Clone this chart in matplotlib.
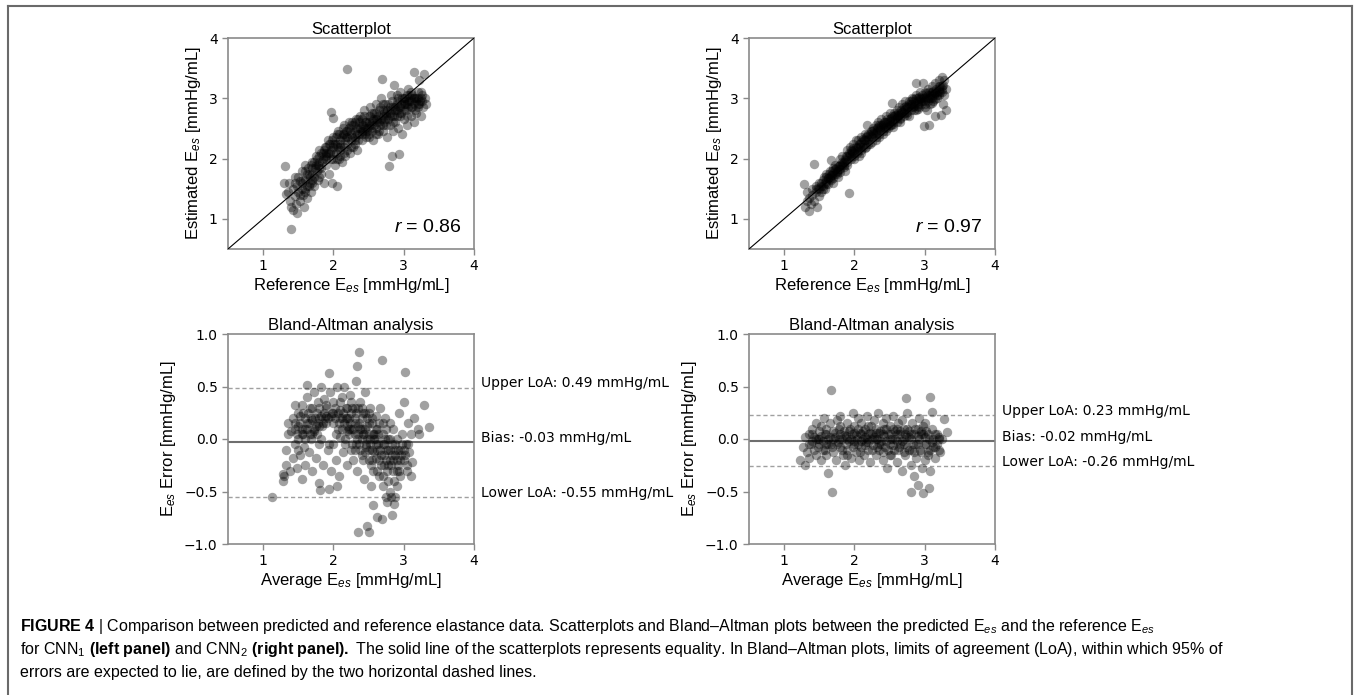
import matplotlib
matplotlib.use("Agg")
import matplotlib.pyplot as plt
import numpy as np
from matplotlib.lines import Line2D

# FONTES
plt.rcParams['font.family'] = 'DejaVu Sans'
plt.rcParams['mathtext.fontset'] = 'custom'
plt.rcParams['mathtext.rm'] = 'Liberation Sans'
plt.rcParams['mathtext.it'] = 'Liberation Sans:italic'
plt.rcParams['mathtext.bf'] = 'Liberation Sans:bold'

# DATA
# CNN1 scatter: (reference, estimated)
cnn1_scatter = [
    (1.31, 1.87), (1.30, 1.60), (1.33, 1.42), (1.35, 1.45), (1.37, 1.60), (1.38, 1.30), (1.39, 0.83),
    (1.40, 1.20), (1.42, 1.50), (1.43, 1.15), (1.45, 1.38), (1.46, 1.70), (1.47, 1.25), (1.48, 1.55),
    (1.48, 1.10), (1.50, 1.45), (1.52, 1.62), (1.53, 1.30), (1.55, 1.80), (1.55, 1.50), (1.57, 1.40),
    (1.58, 1.20), (1.60, 1.65), (1.60, 1.90), (1.62, 1.55), (1.63, 1.35), (1.65, 1.75), (1.66, 1.60),
    (1.68, 1.45), (1.70, 1.85), (1.70, 1.95), (1.72, 1.70), (1.73, 1.55), (1.75, 2.05), (1.76, 1.80),
    (1.78, 1.65), (1.80, 1.95), (1.80, 2.15), (1.82, 1.75), (1.83, 1.85), (1.85, 2.00), (1.86, 1.60),
    (1.88, 2.20), (1.90, 1.90), (1.90, 2.05), (1.92, 2.30), (1.93, 1.75), (1.95, 2.10), (1.96, 2.00),
    (1.96, 2.77), (1.99, 2.68), (1.98, 1.60), (2.00, 2.20), (2.00, 2.35), (2.02, 1.90), (2.03, 2.10),
    (2.05, 2.25), (2.05, 1.55), (2.07, 2.45), (2.08, 2.00), (2.10, 2.30), (2.10, 2.15), (2.12, 1.95),
    (2.13, 2.40), (2.15, 2.20), (2.15, 2.55), (2.17, 2.05), (2.18, 2.35), (2.20, 3.49), (2.20, 2.25),
    (2.22, 2.50), (2.23, 2.10), (2.25, 2.40), (2.25, 2.30), (2.27, 2.60), (2.28, 2.20), (2.30, 2.45),
    (2.30, 2.35), (2.32, 2.65), (2.33, 2.15), (2.35, 2.50), (2.36, 2.40), (2.38, 2.70), (2.40, 2.30),
    (2.40, 2.55), (2.42, 2.45), (2.43, 2.80), (2.45, 2.60), (2.46, 2.35), (2.48, 2.50), (2.50, 2.70),
    (2.50, 2.40), (2.52, 2.85), (2.53, 2.55), (2.55, 2.62), (2.56, 2.30), (2.58, 2.75), (2.60, 2.50),
    (2.60, 2.90), (2.62, 2.65), (2.63, 2.40), (2.65, 2.80), (2.66, 2.55), (2.68, 3.00), (2.69, 3.32),
    (2.70, 2.70), (2.70, 2.45), (2.72, 2.60), (2.74, 2.90), (2.75, 2.75), (2.76, 2.35), (2.78, 2.65),
    (2.79, 1.88), (2.80, 2.85), (2.80, 2.55), (2.82, 3.05), (2.83, 2.70), (2.84, 2.05), (2.85, 2.45),
    (2.86, 3.22), (2.87, 2.80), (2.88, 2.60), (2.90, 2.95), (2.90, 2.70), (2.92, 2.50), (2.93, 2.07),
    (2.94, 2.85), (2.95, 3.10), (2.96, 2.75), (2.98, 2.40), (3.00, 2.90), (3.00, 2.65), (3.02, 3.00),
    (3.03, 2.80), (3.05, 2.55), (3.06, 3.15), (3.08, 2.95), (3.10, 2.70), (3.10, 2.85), (3.12, 3.05),
    (3.14, 2.60), (3.15, 3.44), (3.15, 2.90), (3.17, 3.00), (3.18, 2.75), (3.20, 3.10), (3.20, 2.85),
    (3.22, 3.30), (3.23, 2.95), (3.25, 2.70), (3.26, 3.05), (3.28, 2.85), (3.29, 3.41), (3.30, 3.00),
    (3.32, 2.90),
    # dense core
    (1.45, 1.60), (1.50, 1.70), (1.52, 1.40), (1.56, 1.65), (1.60, 1.50), (1.62, 1.75), (1.64, 1.85),
    (1.66, 1.70), (1.68, 1.90), (1.70, 1.75), (1.72, 1.95), (1.74, 1.85), (1.76, 2.00), (1.78, 1.90),
    (1.80, 2.05), (1.82, 2.10), (1.84, 1.95), (1.86, 2.15), (1.88, 2.05), (1.90, 2.20), (1.92, 2.10),
    (1.94, 2.25), (1.96, 2.15), (1.98, 2.30), (2.00, 2.10), (2.02, 2.25), (2.04, 2.35), (2.06, 2.20),
    (2.08, 2.40), (2.10, 2.25), (2.12, 2.35), (2.14, 2.50), (2.16, 2.30), (2.18, 2.45), (2.20, 2.35),
    (2.22, 2.60), (2.24, 2.45), (2.26, 2.35), (2.28, 2.55), (2.30, 2.60), (2.32, 2.50), (2.34, 2.40),
    (2.36, 2.60), (2.38, 2.50), (2.40, 2.65), (2.42, 2.55), (2.44, 2.70), (2.46, 2.60), (2.48, 2.45),
    (2.50, 2.60), (2.52, 2.70), (2.54, 2.50), (2.56, 2.65), (2.58, 2.55), (2.60, 2.75), (2.62, 2.60),
    (2.64, 2.70), (2.66, 2.85), (2.68, 2.65), (2.70, 2.80), (2.72, 2.75), (2.74, 2.65), (2.76, 2.80),
    (2.78, 2.90), (2.80, 2.70), (2.82, 2.80), (2.84, 2.95), (2.86, 2.70), (2.88, 2.85), (2.90, 2.80),
    (2.92, 3.00), (2.94, 2.75), (2.96, 2.90), (2.98, 3.00), (3.00, 2.80), (3.02, 2.90), (3.04, 3.05),
    (3.06, 2.85), (3.08, 3.05), (3.10, 2.95), (3.12, 2.85), (3.14, 3.00), (3.16, 2.80), (3.18, 2.95),
    (3.20, 3.00), (3.22, 2.90), (3.24, 3.10), (3.26, 2.95), (3.10, 3.00), (3.00, 3.00), (2.90, 2.90),
    (3.05, 2.70), (2.75, 2.55), (2.65, 2.45), (2.55, 2.45), (2.45, 2.40), (2.35, 2.30), (2.25, 2.20),
    (2.15, 2.10), (2.05, 2.00),
    (1.55, 1.60), (1.60, 1.80), (1.65, 1.55), (1.70, 1.65), (1.75, 1.90), (1.80, 1.85), (1.85, 2.10),
    (1.90, 2.00), (1.95, 2.25), (2.00, 2.00), (2.05, 2.40), (2.10, 2.20), (2.15, 2.40), (2.20, 2.45),
    (2.25, 2.55), (2.30, 2.30), (2.35, 2.65), (2.40, 2.45), (2.45, 2.50), (2.50, 2.55), (2.55, 2.75),
    (2.60, 2.65), (2.65, 2.60), (2.70, 2.90), (2.75, 2.70), (2.80, 2.75), (2.85, 2.85), (2.90, 3.05),
    (2.95, 2.85), (3.00, 2.95), (3.05, 2.95), (3.10, 3.10), (3.15, 3.00), (3.20, 2.90), (3.25, 3.00),
    (3.05, 2.90), (2.95, 2.70), (2.85, 2.60), (2.70, 2.55), (2.60, 2.40), (2.50, 2.35), (2.40, 2.40),
    (2.30, 2.25), (2.20, 2.15), (2.10, 2.05), (2.00, 2.25), (1.90, 2.10), (1.80, 1.70), (1.70, 1.60),
    (1.60, 1.45),
]

# CNN2 scatter: (reference, estimated)
cnn2_scatter = [
    (1.28, 1.57), (1.30, 1.20), (1.32, 1.30), (1.33, 1.45), (1.35, 1.13), (1.36, 1.35), (1.38, 1.25),
    (1.40, 1.40), (1.40, 1.50), (1.42, 1.91), (1.43, 1.30), (1.45, 1.45), (1.46, 1.55), (1.47, 1.20),
    (1.50, 1.50), (1.50, 1.38), (1.52, 1.60), (1.53, 1.45), (1.55, 1.55), (1.56, 1.70), (1.58, 1.50),
    (1.60, 1.62), (1.60, 1.75), (1.62, 1.58), (1.63, 1.68), (1.65, 1.80), (1.66, 1.97), (1.67, 1.65),
    (1.68, 1.72), (1.70, 1.85), (1.70, 1.60), (1.72, 1.75), (1.73, 1.90), (1.75, 1.80), (1.76, 1.70),
    (1.78, 1.88), (1.80, 2.00), (1.80, 1.82), (1.82, 1.90), (1.83, 2.05), (1.85, 1.95), (1.86, 1.80),
    (1.88, 2.05), (1.90, 2.15), (1.90, 1.95), (1.92, 1.43), (1.92, 2.05), (1.94, 2.20), (1.95, 2.00),
    (1.97, 2.10), (1.98, 2.25), (2.00, 2.05), (2.00, 2.15), (2.02, 2.30), (2.03, 2.10), (2.05, 2.20),
    (2.06, 2.05), (2.08, 2.25), (2.10, 2.35), (2.10, 2.15), (2.12, 2.20), (2.14, 2.30), (2.15, 2.40),
    (2.16, 2.20), (2.18, 2.55), (2.18, 2.30), (2.20, 2.40), (2.22, 2.25), (2.23, 2.45), (2.25, 2.35),
    (2.26, 2.50), (2.28, 2.40), (2.30, 2.30), (2.30, 2.55), (2.32, 2.45), (2.34, 2.60), (2.35, 2.40),
    (2.37, 2.50), (2.38, 2.65), (2.40, 2.45), (2.40, 2.55), (2.42, 2.60), (2.44, 2.50), (2.45, 2.70),
    (2.47, 2.60), (2.48, 2.50), (2.50, 2.65), (2.50, 2.75), (2.52, 2.55), (2.54, 2.93), (2.54, 2.70),
    (2.55, 2.60), (2.57, 2.75), (2.58, 2.65), (2.60, 2.80), (2.60, 2.60), (2.62, 2.70), (2.64, 2.85),
    (2.65, 2.65), (2.66, 2.75), (2.68, 2.90), (2.70, 2.70), (2.70, 2.80), (2.72, 2.95), (2.74, 2.75),
    (2.75, 2.85), (2.77, 2.70), (2.78, 2.95), (2.80, 2.80), (2.80, 2.90), (2.82, 3.00), (2.84, 2.85),
    (2.85, 2.95), (2.87, 3.26), (2.87, 2.80), (2.88, 3.05), (2.90, 2.90), (2.90, 3.00), (2.92, 2.85),
    (2.94, 3.10), (2.95, 2.95), (2.97, 3.26), (2.97, 3.00), (2.99, 2.54), (3.00, 2.90), (3.00, 3.10),
    (3.02, 3.00), (3.03, 2.80), (3.05, 3.15), (3.06, 2.55), (3.07, 3.00), (3.08, 2.90), (3.10, 3.10),
    (3.10, 3.20), (3.12, 2.95), (3.13, 3.05), (3.15, 3.25), (3.15, 2.70), (3.17, 3.10), (3.18, 3.00),
    (3.20, 3.20), (3.20, 3.30), (3.22, 3.10), (3.23, 2.72), (3.24, 3.35), (3.25, 3.20), (3.26, 2.90),
    (3.28, 3.05), (3.30, 2.81), (3.30, 3.15), (3.28, 3.30),
    # dense band
    (1.45, 1.50), (1.48, 1.52), (1.50, 1.60), (1.53, 1.55), (1.55, 1.65), (1.58, 1.60), (1.60, 1.70),
    (1.62, 1.68), (1.64, 1.75), (1.66, 1.72), (1.68, 1.80), (1.70, 1.76), (1.72, 1.82), (1.74, 1.85),
    (1.76, 1.88), (1.78, 1.83), (1.80, 1.90), (1.82, 1.95), (1.84, 1.92), (1.86, 2.00), (1.88, 1.97),
    (1.90, 2.05), (1.92, 2.10), (1.94, 2.08), (1.96, 2.12), (1.98, 2.18), (2.00, 2.10), (2.02, 2.20),
    (2.04, 2.18), (2.06, 2.25), (2.08, 2.20), (2.10, 2.28), (2.12, 2.32), (2.14, 2.25), (2.16, 2.35),
    (2.18, 2.38), (2.20, 2.32), (2.22, 2.40), (2.24, 2.38), (2.26, 2.42), (2.28, 2.48), (2.30, 2.42),
    (2.32, 2.50), (2.34, 2.52), (2.36, 2.48), (2.38, 2.55), (2.40, 2.58), (2.42, 2.52), (2.44, 2.60),
    (2.46, 2.65), (2.48, 2.58), (2.50, 2.62), (2.52, 2.68), (2.54, 2.62), (2.56, 2.70), (2.58, 2.72),
    (2.60, 2.68), (2.62, 2.76), (2.64, 2.72), (2.66, 2.80), (2.68, 2.78), (2.70, 2.85), (2.72, 2.82),
    (2.74, 2.88), (2.76, 2.85), (2.78, 2.90), (2.80, 2.95), (2.82, 2.90), (2.84, 2.98), (2.86, 2.92),
    (2.88, 3.00), (2.90, 2.95), (2.92, 3.02), (2.94, 2.98), (2.96, 3.05), (2.98, 2.95), (3.00, 3.02),
    (3.02, 3.08), (3.04, 3.00), (3.06, 3.10), (3.08, 3.05), (3.10, 3.00), (3.12, 3.12), (3.14, 3.08),
    (3.16, 3.15), (3.18, 3.05), (3.20, 3.12), (3.22, 3.20), (3.24, 3.15), (3.26, 3.22), (3.10, 2.92),
    (3.00, 2.85), (2.90, 2.82), (3.20, 3.05), (3.15, 2.98),
    (1.55, 1.50), (1.60, 1.58), (1.65, 1.66), (1.70, 1.68), (1.75, 1.75), (1.80, 1.78), (1.85, 1.86),
    (1.90, 1.90), (1.95, 2.15), (2.00, 2.00), (2.05, 2.30), (2.10, 2.10), (2.15, 2.18), (2.20, 2.25),
    (2.25, 2.28), (2.30, 2.36), (2.35, 2.55), (2.40, 2.40), (2.45, 2.52), (2.50, 2.55), (2.55, 2.52),
    (2.60, 2.72), (2.65, 2.60), (2.70, 2.75), (2.75, 2.78), (2.80, 2.85), (2.85, 2.88), (2.90, 2.88),
    (2.95, 3.00), (3.00, 2.95), (3.05, 3.05), (3.10, 3.05), (3.15, 3.10), (3.20, 3.15), (3.25, 3.10),
    (3.05, 2.95), (2.95, 2.90), (2.85, 2.80), (2.75, 2.72), (2.65, 2.68), (2.55, 2.58), (2.45, 2.45),
    (2.35, 2.35), (2.25, 2.45), (2.15, 2.30), (2.05, 2.12), (1.95, 2.02), (1.85, 1.90), (1.75, 1.78),
    (1.65, 1.70),
]

# CNN1 Bland-Altman: (average, error)
cnn1_ba = [
    (1.13, -0.55), (1.28, -0.40), (1.28, -0.33), (1.30, -0.35), (1.32, -0.25), (1.33, -0.10), (1.35, 0.05),
    (1.36, 0.15), (1.38, -0.30), (1.40, 0.08), (1.42, -0.18), (1.43, 0.20), (1.45, -0.05), (1.46, 0.32),
    (1.46, 0.10), (1.48, -0.28), (1.50, 0.25), (1.50, 0.00), (1.52, -0.15), (1.53, 0.15), (1.55, 0.32),
    (1.55, -0.38), (1.57, 0.05), (1.58, -0.08), (1.60, 0.20), (1.60, -0.25), (1.62, 0.51), (1.62, 0.40),
    (1.63, 0.10), (1.65, -0.12), (1.66, 0.30), (1.68, 0.00), (1.70, 0.18), (1.70, -0.30), (1.72, 0.45),
    (1.73, 0.08), (1.75, -0.18), (1.76, 0.25), (1.78, 0.35), (1.79, -0.42), (1.80, 0.12), (1.80, -0.05),
    (1.81, -0.49), (1.82, 0.50), (1.83, 0.22), (1.85, -0.25), (1.86, 0.38), (1.90, 0.30), (1.90, 0.15),
    (1.92, -0.10), (1.93, -0.48), (1.94, 0.63), (1.95, 0.45), (1.96, -0.30), (1.98, 0.25), (2.00, -0.05),
    (2.00, 0.35), (2.02, 0.20), (2.03, -0.20), (2.05, 0.50), (2.05, -0.45), (2.06, 0.10), (2.08, -0.35),
    (2.10, 0.28), (2.10, 0.02), (2.12, 0.40), (2.13, -0.12), (2.15, 0.15), (2.15, 0.50), (2.17, -0.05),
    (2.18, 0.30), (2.20, 0.08), (2.20, -0.25), (2.22, 0.20), (2.23, 0.42), (2.25, -0.10), (2.25, 0.10),
    (2.27, 0.30), (2.28, -0.20), (2.30, 0.05), (2.30, 0.20), (2.32, 0.55), (2.33, 0.70), (2.33, -0.30),
    (2.35, 0.12), (2.35, -0.89), (2.36, 0.83), (2.36, -0.05), (2.38, 0.35), (2.40, 0.00), (2.40, -0.15),
    (2.42, 0.25), (2.43, -0.38), (2.45, 0.10), (2.45, 0.45), (2.47, -0.08), (2.48, -0.83), (2.48, 0.20),
    (2.50, -0.20), (2.50, 0.05), (2.51, -0.89), (2.52, 0.30), (2.53, -0.45), (2.55, -0.10), (2.55, 0.15),
    (2.57, -0.30), (2.57, -0.63), (2.58, 0.00), (2.60, 0.22), (2.60, -0.18), (2.62, -0.74), (2.62, 0.10),
    (2.64, -0.05), (2.65, -0.35), (2.66, 0.30), (2.68, -0.15), (2.69, 0.75), (2.69, -0.76), (2.70, 0.05),
    (2.70, -0.45), (2.72, -0.25), (2.73, 0.20), (2.75, -0.10), (2.75, -0.55), (2.77, 0.00), (2.78, -0.40),
    (2.80, -0.20), (2.80, 0.15), (2.82, -0.55), (2.83, -0.72), (2.83, -0.05), (2.85, -0.30), (2.85, 0.10),
    (2.86, -0.62), (2.88, -0.15), (2.90, 0.00), (2.90, -0.45), (2.92, -0.25), (2.93, 0.25), (2.95, -0.10),
    (2.95, -0.35), (2.97, 0.05), (3.00, -0.20), (3.00, 0.35), (3.02, 0.64), (3.03, -0.05), (3.05, -0.30),
    (3.06, 0.15), (3.08, -0.12), (3.10, -0.35), (3.10, 0.05), (3.12, -0.22), (3.15, 0.20), (3.20, 0.10),
    (3.22, 0.05), (3.29, 0.32), (3.36, 0.11),
    # dense cores
    (1.45, 0.15), (1.48, 0.05), (1.50, 0.12), (1.52, 0.22), (1.55, 0.10), (1.57, 0.25), (1.60, 0.00),
    (1.62, 0.15), (1.64, 0.25), (1.66, 0.05), (1.68, 0.20), (1.70, 0.30), (1.72, 0.10), (1.74, 0.20),
    (1.76, 0.05), (1.78, 0.15), (1.80, 0.30), (1.82, 0.00), (1.84, 0.12), (1.86, 0.25), (1.88, 0.20),
    (1.90, 0.32), (1.92, 0.20), (1.94, -0.05), (1.96, 0.22), (2.00, 0.15), (2.02, 0.30), (2.04, 0.05),
    (2.06, 0.25), (2.08, 0.15), (2.10, 0.35), (2.12, 0.10), (2.14, 0.25), (2.16, 0.00), (2.18, 0.20),
    (2.20, 0.30), (2.22, 0.05), (2.24, 0.15), (2.26, -0.05), (2.28, 0.10), (2.30, -0.10), (2.32, 0.25),
    (2.34, 0.00), (2.36, 0.15), (2.38, -0.10), (2.40, 0.10), (2.42, -0.20), (2.44, 0.05), (2.46, -0.05),
    (2.48, 0.12), (2.50, -0.10), (2.52, 0.00), (2.54, -0.25), (2.56, 0.05), (2.58, -0.12), (2.60, -0.05),
    (2.62, -0.30), (2.64, 0.05), (2.66, -0.10), (2.68, -0.25), (2.70, -0.05), (2.72, -0.15), (2.74, 0.00),
    (2.76, -0.30), (2.78, -0.10), (2.80, 0.00), (2.82, -0.25), (2.84, -0.15), (2.86, -0.40), (2.88, -0.05),
    (2.90, -0.20), (2.92, -0.10), (2.94, -0.30), (2.96, -0.15), (2.98, -0.05), (3.02, -0.15), (3.04, -0.25),
    (3.06, -0.05), (2.55, 0.20), (2.45, 0.25), (2.35, 0.30), (2.25, 0.35), (2.65, 0.15), (2.75, 0.10),
    (2.60, 0.10), (2.50, 0.15), (2.40, 0.20), (2.30, 0.15), (2.20, 0.20), (2.70, -0.35), (2.80, -0.50),
    (2.88, -0.55), (2.76, -0.60),
    (1.50, -0.10), (1.55, 0.05), (1.60, 0.10), (1.65, 0.15), (1.70, 0.05), (1.75, 0.12), (1.80, 0.20),
    (1.85, 0.15), (1.90, 0.22), (2.00, 0.25), (2.10, 0.20), (2.20, 0.12), (2.25, 0.25), (2.30, 0.30),
    (2.35, 0.05), (2.40, 0.30), (2.45, -0.12), (2.50, 0.25), (2.55, -0.20), (2.60, 0.00), (2.65, -0.20),
    (2.70, 0.15), (2.75, -0.20), (2.80, -0.10), (2.85, -0.20), (2.90, -0.30), (2.95, -0.20), (3.00, -0.10),
    (2.72, -0.05), (2.62, -0.10), (2.52, -0.05), (2.42, 0.05), (2.32, -0.05), (2.22, 0.10), (2.12, 0.20),
    (2.78, -0.25), (2.88, -0.10), (2.58, 0.05), (2.48, 0.00), (2.38, 0.10),
]

# CNN2 Bland-Altman: (average, error)
cnn2_ba = [
    (1.23, -0.20), (1.27, -0.08), (1.30, 0.02), (1.30, -0.25), (1.32, -0.12), (1.35, 0.05), (1.36, -0.18),
    (1.38, -0.05), (1.40, 0.10), (1.42, -0.10), (1.43, 0.02), (1.45, 0.15), (1.46, -0.15), (1.48, 0.00),
    (1.50, -0.05), (1.50, 0.08), (1.52, -0.20), (1.53, 0.12), (1.55, -0.02), (1.56, 0.20), (1.58, -0.10),
    (1.60, 0.05), (1.60, -0.15), (1.62, -0.32), (1.63, 0.00), (1.65, 0.15), (1.66, -0.05), (1.67, 0.47),
    (1.68, -0.50), (1.70, 0.08), (1.70, -0.12), (1.72, 0.02), (1.74, -0.20), (1.75, 0.18), (1.76, -0.03),
    (1.78, 0.10), (1.80, -0.08), (1.80, 0.22), (1.82, 0.00), (1.84, -0.15), (1.85, 0.08), (1.87, -0.25),
    (1.88, 0.03), (1.90, 0.15), (1.90, -0.10), (1.92, -0.02), (1.94, 0.10), (1.95, -0.18), (1.97, 0.05),
    (1.98, 0.25), (2.00, -0.05), (2.00, 0.12), (2.02, -0.12), (2.04, 0.00), (2.05, 0.20), (2.06, -0.20),
    (2.08, 0.06), (2.10, -0.08), (2.10, 0.15), (2.12, 0.00), (2.14, -0.15), (2.15, 0.10), (2.17, -0.03),
    (2.18, 0.22), (2.20, -0.10), (2.20, 0.05), (2.22, -0.22), (2.24, 0.12), (2.25, 0.00), (2.27, -0.06),
    (2.28, 0.18), (2.30, -0.15), (2.30, 0.06), (2.32, 0.00), (2.34, 0.25), (2.35, -0.10), (2.37, 0.08),
    (2.38, -0.02), (2.40, 0.15), (2.40, -0.20), (2.42, 0.03), (2.44, -0.08), (2.45, 0.20), (2.46, -0.28),
    (2.48, 0.05), (2.50, -0.05), (2.50, 0.12), (2.52, -0.15), (2.54, 0.00), (2.55, 0.22), (2.57, -0.10),
    (2.58, 0.08), (2.60, -0.02), (2.60, -0.22), (2.62, 0.15), (2.64, -0.08), (2.65, 0.05), (2.67, -0.30),
    (2.68, 0.18), (2.70, -0.05), (2.70, 0.10), (2.72, -0.15), (2.74, 0.02), (2.74, 0.39), (2.75, 0.25),
    (2.77, -0.10), (2.78, 0.08), (2.80, -0.25), (2.80, 0.00), (2.81, -0.50), (2.82, 0.15), (2.84, -0.05),
    (2.85, -0.35), (2.86, 0.10), (2.88, -0.18), (2.90, 0.03), (2.90, -0.44), (2.92, 0.20), (2.93, -0.10),
    (2.95, 0.05), (2.96, -0.28), (2.98, -0.51), (2.98, 0.12), (3.00, -0.05), (3.00, -0.20), (3.02, 0.08),
    (3.04, -0.12), (3.06, -0.47), (3.06, 0.00), (3.08, 0.40), (3.08, -0.30), (3.10, 0.10), (3.11, 0.26),
    (3.12, -0.08), (3.14, -0.18), (3.15, 0.05), (3.17, -0.05), (3.20, 0.02), (3.22, -0.12), (3.27, 0.19),
    (3.31, 0.07),
    # dense band
    (1.35, -0.05), (1.40, -0.02), (1.45, 0.00), (1.48, -0.08), (1.52, 0.03), (1.55, -0.10), (1.58, 0.05),
    (1.62, -0.05), (1.65, 0.02), (1.68, -0.08), (1.72, 0.06), (1.75, -0.05), (1.78, 0.00), (1.82, -0.10),
    (1.85, 0.04), (1.88, -0.05), (1.92, 0.08), (1.95, 0.00), (1.98, -0.08), (2.02, 0.04), (2.05, -0.05),
    (2.08, -0.12), (2.12, 0.08), (2.15, -0.06), (2.18, 0.00), (2.22, 0.06), (2.25, -0.10), (2.28, 0.02),
    (2.32, -0.08), (2.35, 0.06), (2.38, -0.05), (2.42, 0.10), (2.45, -0.02), (2.48, -0.10), (2.52, 0.05),
    (2.55, -0.06), (2.58, 0.00), (2.62, -0.10), (2.65, 0.08), (2.68, -0.02), (2.72, 0.05), (2.75, -0.08),
    (2.78, 0.02), (2.82, -0.10), (2.85, 0.05), (2.88, -0.05), (2.92, 0.00), (2.95, -0.12), (2.98, 0.05),
    (3.02, -0.05), (3.05, 0.05), (3.08, -0.10), (3.12, 0.00), (3.15, -0.08), (3.18, 0.05), (3.20, -0.10),
    (3.24, 0.00), (2.60, 0.10), (2.40, -0.12), (2.20, 0.12), (2.00, 0.06), (1.80, 0.12), (1.60, 0.10),
    (2.70, -0.12), (2.90, 0.10), (3.00, 0.15), (2.50, -0.15), (2.30, 0.10), (2.10, -0.02), (1.90, -0.15),
    (1.40, 0.05), (1.50, 0.00), (1.60, -0.05), (1.70, 0.00), (1.80, 0.05), (1.90, 0.00), (2.00, -0.02),
    (2.10, 0.05), (2.20, -0.03), (2.30, 0.00), (2.40, 0.05), (2.50, 0.00), (2.60, 0.05), (2.70, 0.00),
    (2.80, 0.05), (2.90, -0.05), (3.00, 0.02), (3.10, -0.03), (3.20, 0.00), (2.65, -0.05), (2.75, 0.10),
    (2.85, -0.12), (2.95, 0.08), (3.05, -0.15), (2.55, 0.10), (2.45, 0.10), (2.35, -0.05), (2.25, 0.05),
    (2.15, 0.02), (2.05, 0.10),
]

r_values = [0.86, 0.97]
bias = [-0.03, -0.02]
upper_loa = [0.49, 0.23]
lower_loa = [-0.55, -0.26]

scatters = [cnn1_scatter, cnn2_scatter]
bas = [cnn1_ba, cnn2_ba]

# FIGURA
fig = plt.figure(figsize=(13.54, 6.95), dpi=100)
W, H = 1354, 695

spine_col = '#8a8a8a'
label_font = 'Liberation Sans'
marker_s = 46
marker_alpha = 0.37


def caixa(x0, y0, x1, y1):
    # pixel box -> figure fraction
    return [x0 / W, 1 - y1 / H, (x1 - x0) / W, (y1 - y0) / H]


def estilo(ax):
    for s in ax.spines.values():
        s.set_color(spine_col)
        s.set_linewidth(1.2)
    ax.tick_params(colors=spine_col, labelcolor='black', labelsize=10, length=4, width=1)


col_x = [(228, 474), (749, 995)]

for i in range(2):
    x0, x1 = col_x[i]

    # SCATTERPLOT
    ax = fig.add_axes(caixa(x0, 38, x1, 249))
    pts = np.array(scatters[i]).T
    ax.scatter(pts[0], pts[1], s=marker_s, color='k', alpha=marker_alpha, linewidths=0)
    ax.plot([0.5, 4], [0.5, 4], color='k', lw=0.8, zorder=3)
    ax.set_xlim(0.5, 4)
    ax.set_ylim(0.5, 4)
    ax.set_xticks([1, 2, 3, 4])
    ax.set_yticks([1, 2, 3, 4])
    estilo(ax)
    ax.set_title("Scatterplot", fontsize=12, family=label_font, pad=3)
    ax.set_xlabel(r"Reference $\mathrm{E}_{es}$ [mmHg/mL]", fontsize=12, family=label_font, labelpad=2)
    ax.set_ylabel(r"Estimated $\mathrm{E}_{es}$ [mmHg/mL]", fontsize=12, family=label_font, labelpad=4)
    ax.text(3.83, 0.85, r"$r$ = %.2f" % r_values[i], fontsize=14, family=label_font,
            ha='right', va='center')

    # BLAND-ALTMAN
    ax = fig.add_axes(caixa(x0, 334, x1, 544))
    ax.axhline(bias[i], color='#6e6e6e', lw=1.5, zorder=1)
    ax.axhline(upper_loa[i], color='#a0a0a0', lw=1, ls=(0, (3, 2)), zorder=1)
    ax.axhline(lower_loa[i], color='#a0a0a0', lw=1, ls=(0, (3, 2)), zorder=1)
    pts = np.array(bas[i]).T
    ax.scatter(pts[0], pts[1], s=marker_s, color='k', alpha=marker_alpha, linewidths=0, zorder=2)
    ax.set_xlim(0.5, 4)
    ax.set_ylim(-1, 1)
    ax.set_xticks([1, 2, 3, 4])
    ax.set_yticks([-1, -0.5, 0, 0.5, 1])
    estilo(ax)
    ax.set_title("Bland-Altman analysis", fontsize=12, family=label_font, pad=3)
    ax.set_xlabel(r"Average $\mathrm{E}_{es}$ [mmHg/mL]", fontsize=12, family=label_font, labelpad=2)
    ax.set_ylabel(r"$\mathrm{E}_{es}$ Error [mmHg/mL]", fontsize=12, family=label_font, labelpad=4)
    textos = [("Upper LoA: %.2f mmHg/mL" % upper_loa[i], upper_loa[i]),
              ("Bias: %.2f mmHg/mL" % bias[i], bias[i]),
              ("Lower LoA: %.2f mmHg/mL" % lower_loa[i], lower_loa[i])]
    for t, v in textos:
        ax.annotate(t, xy=(1, v), xycoords=('axes fraction', 'data'), xytext=(5, 3),
                    textcoords='offset points', va='center', ha='left', fontsize=10,
                    annotation_clip=False)

# MOLDURA
for (xa, ya, xb, yb) in [(8, 6, 1352, 6), (8, 6, 8, 695), (1352, 6, 1352, 695)]:
    fig.add_artist(Line2D([xa / W, xb / W], [1 - ya / H, 1 - yb / H], color='#6a6a6a', lw=1.5))

# LEGENDA DA FIGURA
linhas = [
    r"$\mathbf{FIGURE\ 4}$ | Comparison between predicted and reference elastance data. "
    r"Scatterplots and Bland–Altman plots between the predicted E$_{es}$ and the reference E$_{es}$",
    r"for CNN$_1$ $\mathbf{(left\ panel)}$ and CNN$_2$ $\mathbf{(right\ panel).}$ The solid line of the "
    r"scatterplots represents equality. In Bland–Altman plots, limits of agreement (LoA), within which 95% of",
    "errors are expected to lie, are defined by the two horizontal dashed lines.",
]
for k, linha in enumerate(linhas):
    fig.text(20 / W, 1 - (626 + 23.5 * k) / H, linha, fontsize=11.5, family=label_font, va='center', ha='left')

fig.savefig("out.png", dpi=100)
